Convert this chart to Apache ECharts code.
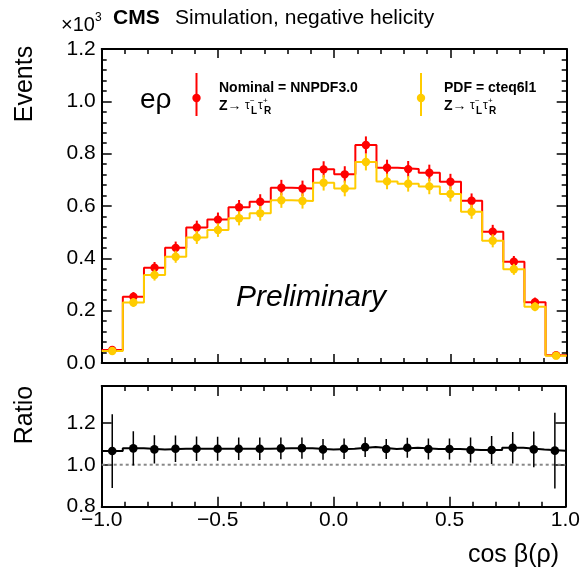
<!DOCTYPE html>
<html>
<head>
<meta charset="utf-8">
<script src="https://cdn.jsdelivr.net/npm/echarts@6/dist/echarts.min.js"></script>
<style>
html,body{margin:0;padding:0;background:#fff;}
#chart{width:583px;height:573px;}
</style>
</head>
<body>
<div id="chart"></div>
<script>
// ---- binning ----
const xMin = -1.0;
const xMax = 1.0;
const nBins = 22;
const xTicks = [-1.0, -0.5, 0.0, 0.5, 1.0];
const yTicksMain = [0.0, 0.2, 0.4, 0.6, 0.8, 1.0, 1.2];
const yTicksRatio = [0.8, 1.0, 1.2];

// ---- events (units of 10^3) ----
const nominalEvents = [0.050, 0.253, 0.364, 0.440, 0.518, 0.548, 0.595, 0.616, 0.670, 0.667, 0.740,
                       0.721, 0.833, 0.746, 0.741, 0.727, 0.693, 0.620, 0.502, 0.387, 0.232, 0.030];
const nominalErrors = [0.008, 0.018, 0.022, 0.024, 0.026, 0.027, 0.028, 0.029, 0.030, 0.030, 0.031,
                       0.031, 0.033, 0.031, 0.031, 0.031, 0.030, 0.028, 0.026, 0.022, 0.018, 0.007];
const cteqEvents    = [0.046, 0.231, 0.336, 0.406, 0.480, 0.508, 0.553, 0.572, 0.622, 0.619, 0.689,
                       0.667, 0.768, 0.694, 0.685, 0.675, 0.646, 0.578, 0.467, 0.358, 0.215, 0.028];
const cteqErrors    = [0.007, 0.017, 0.021, 0.023, 0.025, 0.026, 0.027, 0.028, 0.029, 0.029, 0.030,
                       0.030, 0.032, 0.030, 0.030, 0.030, 0.029, 0.027, 0.025, 0.021, 0.017, 0.007];

// ---- ratio ----
const ratioValues = [1.065, 1.078, 1.073, 1.076, 1.076, 1.076, 1.076, 1.076, 1.078, 1.079, 1.073,
                     1.076, 1.084, 1.075, 1.081, 1.075, 1.075, 1.070, 1.070, 1.081, 1.073, 1.067];
const ratioErrors = [0.176, 0.082, 0.067, 0.063, 0.058, 0.057, 0.054, 0.054, 0.052, 0.051, 0.049,
                     0.049, 0.047, 0.048, 0.048, 0.050, 0.050, 0.060, 0.067, 0.075, 0.085, 0.180];

// ---- helpers ----
const binW = (xMax - xMin) / nBins;
const centers = Array.from({length: nBins}, (_, i) => xMin + binW * (i + 0.5));
function stepData(vals) {
  const d = vals.map((v, i) => [xMin + binW * i, v]);
  d.push([xMax, vals[vals.length - 1]]);
  return d;
}
function pointData(vals, errs) {
  return vals.map((v, i) => [centers[i], v, errs[i]]);
}
function errRender(color, r, lw) {
  return function (params, api) {
    const x = api.value(0), y = api.value(1), e = api.value(2);
    const p = api.coord([x, y]);
    const lo = api.coord([x, y - e]);
    const hi = api.coord([x, y + e]);
    return {
      type: 'group',
      children: [
        {type: 'line', shape: {x1: p[0], y1: lo[1], x2: p[0], y2: hi[1]}, style: {stroke: color, lineWidth: lw}},
        {type: 'circle', shape: {cx: p[0], cy: p[1], r: r}, style: {fill: color}}
      ]
    };
  };
}
const FONT = '"Liberation Sans", Arial, Helvetica, sans-serif';
const fmtX = v => (v < 0 ? '\u2212' + Math.abs(v).toFixed(1) : v.toFixed(1));

const L = 101.7, R = 16.3;
const gridMain = {left: L, right: R, top: 49, height: 314};
const gridRatio = {left: L, right: R, top: 386, height: 120.7};

function xAx(gi, pos, labels) {
  return {
    type: 'value', gridIndex: gi, position: pos, min: xMin, max: xMax, interval: 0.5,
    axisLine: {show: true, onZero: false, lineStyle: {color: '#000', width: 2}},
    axisTick: {show: true, inside: true, length: gi === 0 ? 9 : 10, lineStyle: {color: '#000', width: 1.5}},
    minorTick: {show: true, splitNumber: 5, length: 5, lineStyle: {color: '#000', width: 1.5}},
    splitLine: {show: false},
    axisLabel: labels ? {show: true, formatter: fmtX, fontSize: 21, fontFamily: FONT, color: '#000', margin: 3} : {show: false}
  };
}
function yAx(gi, pos, labels, min, max, minor) {
  return {
    type: 'value', gridIndex: gi, position: pos, min: min, max: max, interval: 0.2,
    axisLine: {show: true, onZero: false, lineStyle: {color: '#000', width: 2}},
    axisTick: {show: true, inside: true, length: 10, lineStyle: {color: '#000', width: 1.5}},
    minorTick: {show: minor, splitNumber: 5, length: 5, lineStyle: {color: '#000', width: 1.5}},
    splitLine: {show: false},
    axisLabel: labels ? {
      show: true, fontSize: 21, fontFamily: FONT, color: '#000', margin: 6,
      formatter: v => {
        const k = Math.round(v / 0.2);
        return Math.abs(k * 0.2 - v) < 1e-6 ? v.toFixed(1) : '';
      }
    } : {show: false}
  };
}

const chart = echarts.init(document.getElementById('chart'), null, {renderer: 'canvas'});
const RED = '#ff0000', YEL = '#ffcc00';

const option = {
  animation: false,
  backgroundColor: '#fff',
  grid: [gridMain, gridRatio],
  xAxis: [xAx(0, 'bottom', false), xAx(0, 'top', false), xAx(1, 'bottom', true), xAx(1, 'top', false)],
  yAxis: [yAx(0, 'left', true, 0, 1.2, true), yAx(0, 'right', false, 0, 1.2, true),
          yAx(1, 'left', true, 0.8, 1.375, false), yAx(1, 'right', false, 0.8, 1.375, false)],
  series: [
    {type: 'line', xAxisIndex: 0, yAxisIndex: 0, step: 'end', data: stepData(nominalEvents),
     showSymbol: false, lineStyle: {color: RED, width: 2}, z: 2},
    {type: 'line', xAxisIndex: 0, yAxisIndex: 0, step: 'end', data: stepData(cteqEvents),
     showSymbol: false, lineStyle: {color: YEL, width: 2}, z: 3},
    {type: 'custom', xAxisIndex: 0, yAxisIndex: 0, data: pointData(nominalEvents, nominalErrors),
     renderItem: errRender(RED, 4.2, 2), z: 4, clip: true},
    {type: 'custom', xAxisIndex: 0, yAxisIndex: 0, data: pointData(cteqEvents, cteqErrors),
     renderItem: errRender(YEL, 4.2, 2), z: 5, clip: true},
    {type: 'line', xAxisIndex: 2, yAxisIndex: 2, data: [[xMin, 1.0], [xMax, 1.0]],
     showSymbol: false, lineStyle: {color: '#888', width: 2, type: [3, 3]}, z: 2},
    {type: 'line', xAxisIndex: 2, yAxisIndex: 2, step: 'end', data: stepData(ratioValues),
     showSymbol: false, lineStyle: {color: '#000', width: 2}, z: 3},
    {type: 'custom', xAxisIndex: 2, yAxisIndex: 2, data: pointData(ratioValues, ratioErrors),
     renderItem: errRender('#000', 4.3, 1.5), z: 4, clip: true}
  ],
  graphic: [
    {type: 'text', left: 61, top: 15, style: {text: '\u00d710', font: '20px ' + FONT, fill: '#000'}},
    {type: 'text', left: 95, top: 12, style: {text: '3', font: '12px ' + FONT, fill: '#000'}},
    {type: 'text', left: 113, top: 8, style: {text: 'CMS', font: 'bold 21px ' + FONT, fill: '#000'}},
    {type: 'text', left: 175, top: 8, style: {text: 'Simulation, negative helicity', font: '21px ' + FONT, fill: '#000'}},
    {type: 'text', x: 25, y: 84, rotation: Math.PI / 2,
     style: {text: 'Events', font: '25px ' + FONT, fill: '#000', align: 'center', verticalAlign: 'middle'}},
    {type: 'text', x: 25, y: 415, rotation: Math.PI / 2,
     style: {text: 'Ratio', font: '25px ' + FONT, fill: '#000', align: 'center', verticalAlign: 'middle'}},
    {type: 'text', x: 559, y: 555,
     style: {text: 'cos \u03b2(\u03c1)', font: '25px ' + FONT, fill: '#000', align: 'right', verticalAlign: 'middle'}},
    {type: 'text', x: 140, y: 100,
     style: {text: 'e\u03c1', font: '28px ' + FONT, fill: '#000', align: 'left', verticalAlign: 'middle'}},
    {type: 'text', x: 236, y: 298,
     style: {text: 'Preliminary', font: 'italic 30px ' + FONT, fill: '#000', align: 'left', verticalAlign: 'middle'}},
    // legend nominal
    {type: 'line', shape: {x1: 196.5, y1: 73, x2: 196.5, y2: 116}, style: {stroke: RED, lineWidth: 2}},
    {type: 'circle', shape: {cx: 196.5, cy: 98, r: 4.2}, style: {fill: RED}},
    {type: 'text', x: 219, y: 88, style: {text: 'Nominal = NNPDF3.0', font: 'bold 14px ' + FONT, fill: '#000', verticalAlign: 'middle'}},
    {type: 'text', x: 219, y: 106, style: {text: 'Z\u2192', font: 'bold 14px ' + FONT, fill: '#000', verticalAlign: 'middle'}},
    {type: 'text', x: 245, y: 106, style: {text: '\u03c4', font: '12px ' + FONT, fill: '#000', verticalAlign: 'middle'}},
    {type: 'text', x: 250, y: 101, style: {text: '\u2212', font: '8px ' + FONT, fill: '#000', verticalAlign: 'middle'}},
    {type: 'text', x: 251, y: 111, style: {text: 'L', font: 'bold 10px ' + FONT, fill: '#000', verticalAlign: 'middle'}},
    {type: 'text', x: 258, y: 106, style: {text: '\u03c4', font: '12px ' + FONT, fill: '#000', verticalAlign: 'middle'}},
    {type: 'text', x: 263, y: 101, style: {text: '+', font: '8px ' + FONT, fill: '#000', verticalAlign: 'middle'}},
    {type: 'text', x: 264, y: 111, style: {text: 'R', font: 'bold 10px ' + FONT, fill: '#000', verticalAlign: 'middle'}},
    // legend cteq
    {type: 'line', shape: {x1: 421, y1: 73, x2: 421, y2: 116}, style: {stroke: YEL, lineWidth: 2}},
    {type: 'circle', shape: {cx: 421, cy: 98, r: 4.2}, style: {fill: YEL}},
    {type: 'text', x: 444, y: 88, style: {text: 'PDF = cteq6l1', font: 'bold 14px ' + FONT, fill: '#000', verticalAlign: 'middle'}},
    {type: 'text', x: 444, y: 106, style: {text: 'Z\u2192', font: 'bold 14px ' + FONT, fill: '#000', verticalAlign: 'middle'}},
    {type: 'text', x: 470, y: 106, style: {text: '\u03c4', font: '12px ' + FONT, fill: '#000', verticalAlign: 'middle'}},
    {type: 'text', x: 475, y: 101, style: {text: '\u2212', font: '8px ' + FONT, fill: '#000', verticalAlign: 'middle'}},
    {type: 'text', x: 476, y: 111, style: {text: 'L', font: 'bold 10px ' + FONT, fill: '#000', verticalAlign: 'middle'}},
    {type: 'text', x: 483, y: 106, style: {text: '\u03c4', font: '12px ' + FONT, fill: '#000', verticalAlign: 'middle'}},
    {type: 'text', x: 488, y: 101, style: {text: '+', font: '8px ' + FONT, fill: '#000', verticalAlign: 'middle'}},
    {type: 'text', x: 489, y: 111, style: {text: 'R', font: 'bold 10px ' + FONT, fill: '#000', verticalAlign: 'middle'}}
  ]
};
chart.setOption(option);
</script>
</body>
</html>
